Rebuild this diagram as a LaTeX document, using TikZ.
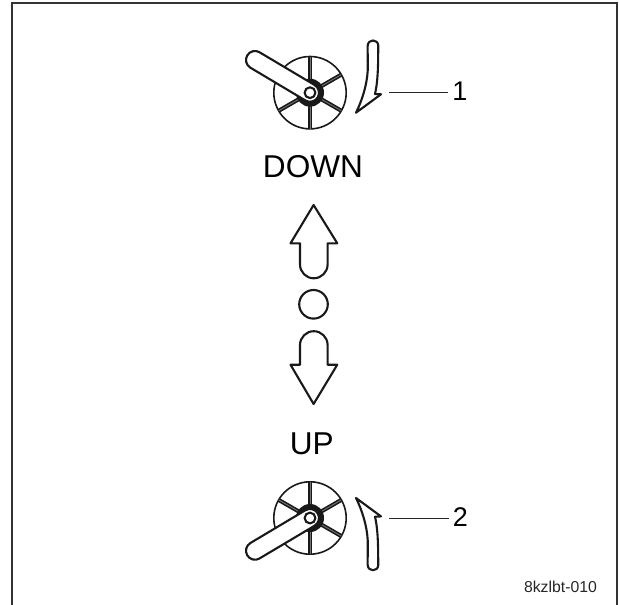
\documentclass[tikz,border=0pt]{standalone}
\usepackage{fontspec}
\setmainfont{Liberation Sans}
\usetikzlibrary{arrows,shapes}
\tikzstyle{outl}=[line width=2.1pt,draw=black!90,fill=white,line join=round]
\tikzstyle{bigtxt}=[inner sep=0pt,font=\fontsize{31.6}{32}\selectfont]
\tikzstyle{numtxt}=[inner sep=0pt,outer sep=4pt,font=\fontsize{27}{28}\selectfont]
\tikzstyle{lead}=[line width=1pt,draw=black!85]
\newcommand{\crankwheel}[2]{%
\begin{scope}[shift={(310,#1)},yscale=#2]
\draw[line width=1.6pt,black!90] (0,0) circle (36.2);
\foreach \a in {30,90,150,210,270,330} \draw[line width=1.6pt,black!90,double=black!55,double distance=0.9pt] (0,0)--(\a:36);
\fill[black!90] (0,0) circle (14);
\draw[outl] (-50.4,-40.4)--(4.6,-7.7) arc (-59.3:120.7:9)--(-59.6,-25) arc (120.7:300.7:9)--cycle;
\draw[outl] (0,0) circle (5.4);
\draw[outl] (46,20) .. controls (52,8) and (57,-8) .. (57.7,-22)
 .. controls (58,-32) and (57.5,-42) .. (57.7,-47)
 .. controls (58,-54) and (68,-54) .. (68.3,-47)
 .. controls (68,-32) and (68.5,-14) .. (65,1.3)
 -- (71,1.6) -- cycle;
\end{scope}}
\begin{document}
\begin{tikzpicture}[x=1pt,y=-1pt]
\useasboundingbox (0,0) rectangle (619,605);
\draw[line width=1.6pt,black!80] (12,605)--(12,3)--(617,3)--(617,605);
\crankwheel{92.7}{1}
\crankwheel{518}{-1}
% arrows in the middle
\draw[outl] (313.6,205)--(337.3,243.3)--(327.6,243.3)--(327.6,264.5) arc (0:180:13.8)--(300,243.3)--(290.5,243.3)--cycle;
\draw[outl] (313.6,404)--(337.3,364.7)--(327.6,364.7)--(327.6,345) arc (0:-180:13.8)--(300,364.7)--(290.5,364.7)--cycle;
\draw[outl] (313.5,304.3) circle (14.3);
\node[bigtxt] (down) at (313,166.5) {DOWN};
\node[bigtxt] (up) at (311.7,444) {UP};
\coordinate (lead1) at (389,92.3);
\coordinate (lead2) at (389,518.3);
\node[numtxt] (lab1) at (460,91) {1};
\node[numtxt] (lab2) at (460.5,517) {2};
\draw[lead] (lead1)--(lab1.west|-lead1);\draw[lead] (lead2)--(lab2.west|-lead2);
\node[inner sep=0pt,black!85,font=\fontsize{15.8}{16}\selectfont] (code) at (560.5,587) {8kzlbt-010};
\end{tikzpicture}
\end{document}
